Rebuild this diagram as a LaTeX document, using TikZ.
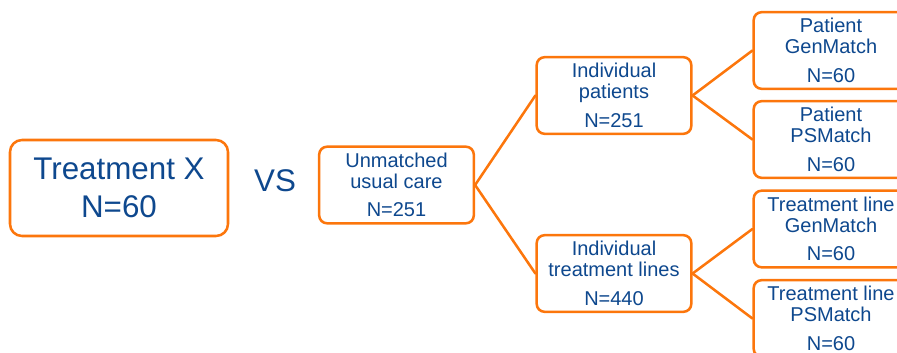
\documentclass[tikz,border=0pt]{standalone}
\usepackage{fontspec}
\setmainfont{Liberation Sans}
\definecolor{boxorange}{RGB}{252,118,12}
\definecolor{txtblue}{RGB}{14,72,142}
\begin{document}
\begin{tikzpicture}[x=0.75pt,y=-0.75pt,
  box/.style={draw=boxorange,line width=1.9pt,rounded corners=6pt,fill=white,
    minimum width=116pt,minimum height=57.5pt,inner sep=0pt,align=center,
    text=txtblue,font=\fontsize{15}{15.75}\selectfont},
  bigbox/.style={box,minimum width=163.5pt,minimum height=72pt,rounded corners=9pt,
    font=\fontsize{23.5}{28.5}\selectfont},
  link/.style={draw=boxorange,line width=1.9pt,line cap=round}]
\useasboundingbox (0,0) rectangle (897,353);
\clip (0,0) rectangle (897,353);
\node[bigbox] (tx) at (119,188) {Treatment X\\N=60};
\node[text=txtblue,font=\fontsize{23.5}{28.5}\selectfont,inner sep=0pt] (vs) at (275,181) {VS};
\node[box] (unm) at (396.5,185) {Unmatched\\usual care\\[5.5pt]N=251};
\node[box] (ip) at (614,95.5) {Individual\\patients\\[5.5pt]N=251};
\node[box] (itl) at (614,273.5) {Individual\\treatment lines\\[5.5pt]N=440};
\node[box] (pg) at (831,50.5) {Patient\\GenMatch\\[5.5pt]N=60};
\node[box] (pp) at (831,139.5) {Patient\\PSMatch\\[5.5pt]N=60};
\node[box] (tg) at (831,229) {Treatment line\\GenMatch\\[5.5pt]N=60};
\node[box] (tp) at (831,318.5) {Treatment line\\PSMatch\\[5.5pt]N=60};
\draw[link] (unm.east) -- (ip.west);
\draw[link] (unm.east) -- (itl.west);
\draw[link] (ip.east) -- (pg.west);
\draw[link] (ip.east) -- (pp.west);
\draw[link] (itl.east) -- (tg.west);
\draw[link] (itl.east) -- (tp.west);
\end{tikzpicture}
\end{document}
